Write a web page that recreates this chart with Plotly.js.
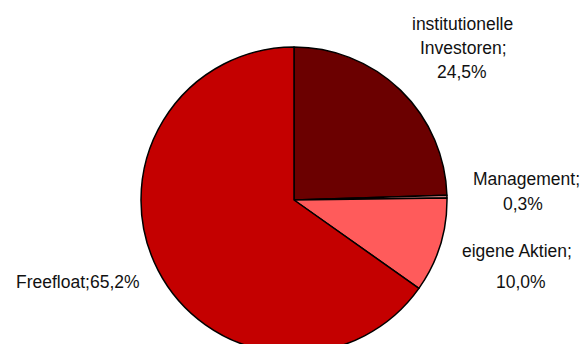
<!DOCTYPE html>
<html>
<head>
<meta charset="utf-8">
<script src="https://cdn.plot.ly/plotly-3.0.1.min.js"></script>
<style>
html,body{margin:0;padding:0;width:584px;height:344px;overflow:hidden;background:#fff;}
#chart{width:584px;height:360px;}
</style>
</head>
<body>
<div id="chart"></div>
<script>
// Data
const labels = ["institutionelle Investoren", "Management", "eigene Aktien", "Freefloat"];
const values = [24.5, 0.3, 10.0, 65.2];
const labelLines = [["institutionelle", "Investoren;"], ["Management;"], ["eigene Aktien;"], []];
const colors = ["#6B0000", "#FF9C9C", "#FF5B5B", "#C40000"];

function fmt(v){ return v.toFixed(1).replace('.', ',') + '%'; }

// label line layout (pixel positions within the 584x360 paper)
const labelPos = [
  [[462, 24], [463, 48], [462, 72]],
  [[526, 179], [523, 204]],
  [[517, 251], [521, 282]],
  [[78, 282]]
];
const H = 360, W = 584;
const annotations = [];
labels.forEach((lab, i) => {
  let lines = labelLines[i].slice();
  if (lines.length === 0) lines = [lab + ';' + fmt(values[i])];
  else lines.push(fmt(values[i]));
  lines.forEach((t, j) => {
    const p = labelPos[i][j];
    annotations.push({
      xref: 'paper', yref: 'paper',
      x: p[0] / W, y: (H - p[1]) / H,
      xanchor: 'center', yanchor: 'middle',
      text: t, showarrow: false,
      font: {family: 'Liberation Sans, Arial, sans-serif', size: 17.5, color: '#111'}
    });
  });
});

const trace = {
  type: 'pie',
  labels: labels,
  values: values,
  sort: false,
  direction: 'clockwise',
  rotation: 0,
  textinfo: 'none',
  hoverinfo: 'label+percent',
  marker: {colors: colors, line: {color: '#000', width: 1.5}},
  domain: {x: [141 / W, 447 / W], y: [(H - 353) / H, (H - 47) / H]}
};

Plotly.newPlot('chart', [trace], {
  width: W, height: H,
  margin: {l: 0, r: 0, t: 0, b: 0},
  showlegend: false,
  paper_bgcolor: '#fff',
  annotations: annotations
}, {staticPlot: true});
</script>
</body>
</html>
